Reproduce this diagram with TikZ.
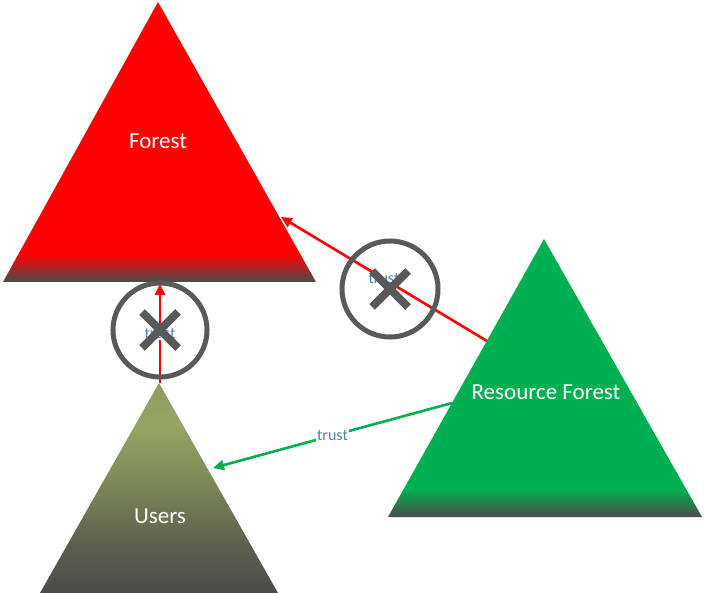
\documentclass[tikz,border=0pt]{standalone}
\usepackage{fontspec}
\setmainfont{Carlito}
\usetikzlibrary{arrows.meta}
\definecolor{basegray}{HTML}{4B4B4B}
\definecolor{xgray}{HTML}{595959}
\definecolor{trustblue}{HTML}{4F7FC0}
\definecolor{resgreen}{HTML}{00B050}
\definecolor{olivemid}{HTML}{7E8A58}
\definecolor{olivelight}{HTML}{95A564}
\definecolor{olivetop}{HTML}{8E9C5F}
\definecolor{olivedark}{HTML}{5E6050}
\pgfdeclareverticalshading{redbase}{100bp}{color(0bp)=(basegray); color(25bp)=(basegray); color(30bp)=(red); color(100bp)=(red)}
\pgfdeclareverticalshading{greenbase}{100bp}{color(0bp)=(basegray); color(25bp)=(basegray); color(30bp)=(resgreen); color(100bp)=(resgreen)}
\pgfdeclareverticalshading{olivebase}{100bp}{color(0bp)=(basegray); color(25bp)=(basegray); color(37bp)=(olivedark); color(52bp)=(olivemid); color(65bp)=(olivelight); color(75bp)=(olivetop); color(100bp)=(olivetop)}
\tikzset{
  treelabel/.style={text=white, font=\fontsize{23}{27}\selectfont},
  trustlabel/.style={fill=white, inner sep=1pt, text=trustblue, font=\fontsize{16}{18}\selectfont},
  nogo/.style={circle, draw=xgray, line width=5pt, minimum size=#1, inner sep=0pt,
    path picture={
      \draw[xgray, line width=8pt] ([shift={(-18pt,-18pt)}]path picture bounding box.center) -- ([shift={(18pt,18pt)}]path picture bounding box.center);
      \draw[xgray, line width=8pt] ([shift={(-18pt,18pt)}]path picture bounding box.center) -- ([shift={(18pt,-18pt)}]path picture bounding box.center);
    }},
  trustlink/.style={line width=2.6pt, -{Triangle[length=11pt,width=10pt]}}
}
\begin{document}
\begin{tikzpicture}[x=1pt,y=-1pt]
\useasboundingbox (0,0) rectangle (704,593);

\shade[shading=redbase] (158,2) -- (316,282) -- (3,282) -- cycle;
\shade[shading=olivebase] (159,383) -- (278,593) -- (40,593) -- cycle;
\shade[shading=greenbase] (544,239) -- (702,517) -- (388,517) -- cycle;

\node[treelabel] (F) at (158,141) {Forest};
\node[treelabel] (U) at (160,516) {Users};
\node[treelabel] (R) at (546,392) {Resource Forest};

\coordinate (u1) at (160,383);
\coordinate (f1) at (160,284);
\coordinate (r1) at (487,341);
\coordinate (f2) at (281,217);
\coordinate (r2) at (452,403);
\coordinate (u2) at (213,468);

\draw[trustlink, red] (u1) -- node[trustlabel] {trust} (f1);
\draw[trustlink, red] (r1) -- node[trustlabel] {trust} (f2);
\draw[trustlink, resgreen] (r2) -- node[trustlabel] {trust} (u2);

\node[nogo=94pt] (X1) at (160,330) {};
\node[nogo=96pt] (X2) at (390,289) {};

\end{tikzpicture}
\end{document}
